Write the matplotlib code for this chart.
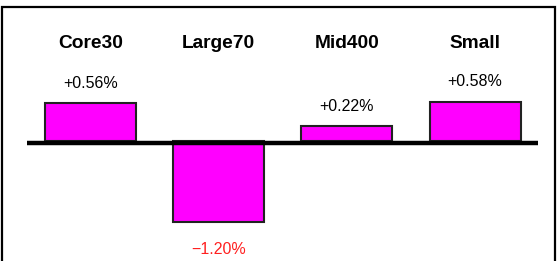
import matplotlib
matplotlib.use('Agg')
import matplotlib.pyplot as plt
from matplotlib.patches import Rectangle

# 規模別指数 騰落率
categories = ['Core30', 'Large70', 'Mid400', 'Small']
values = [0.56, -1.20, 0.22, 0.58]

plt.rcParams['font.family'] = ['Liberation Sans', 'DejaVu Sans']

fig = plt.figure(figsize=(5.58, 2.61), dpi=100)
ax = fig.add_axes([0, 0, 1, 1])

px_x = 128.2   # pixels per category step
px_y = 67.5    # pixels per 1%
x0, y0 = 90.5, 141  # pixel position of first bar centre / zero line
ax.set_xlim(-x0 / px_x, (558 - x0) / px_x)
ax.set_ylim(-(261 - y0) / px_y, y0 / px_y)
ax.axis('off')

xs = list(range(len(categories)))
ax.bar(xs, values, width=0.71, color='#ff00ff', edgecolor='#222222',
       linewidth=1.5, zorder=2)

# zero line
ax.plot([(27 - x0) / px_x, (538 - x0) / px_x], [-0.03, -0.03],
        color='black', lw=3.2, solid_capstyle='butt', zorder=3)

for x, name, v in zip(xs, categories, values):
    ax.text(x, (y0 - 44) / px_y, name, ha='center', va='center',
            fontsize=13.8, fontweight='bold')
    if v >= 0:
        ax.annotate(f'+{v:.2f}%', (x, v), xytext=(0, 14.5), textcoords='offset points',
                    ha='center', va='center', fontsize=11.5)
    else:
        ax.annotate(f'\u2212{abs(v):.2f}%', (x, v), xytext=(0, -19.5),
                    textcoords='offset points', ha='center', va='center',
                    fontsize=11.5, color='#ff2020')

# outer frame
fig.add_artist(Rectangle((1.5 / 558, -0.1), (555 - 1.5) / 558, 1.1 - 6.5 / 261,
                         transform=fig.transFigure, fill=False,
                         edgecolor='black', linewidth=1.6))

fig.savefig('out.png', dpi=100)
plt.close('all')
